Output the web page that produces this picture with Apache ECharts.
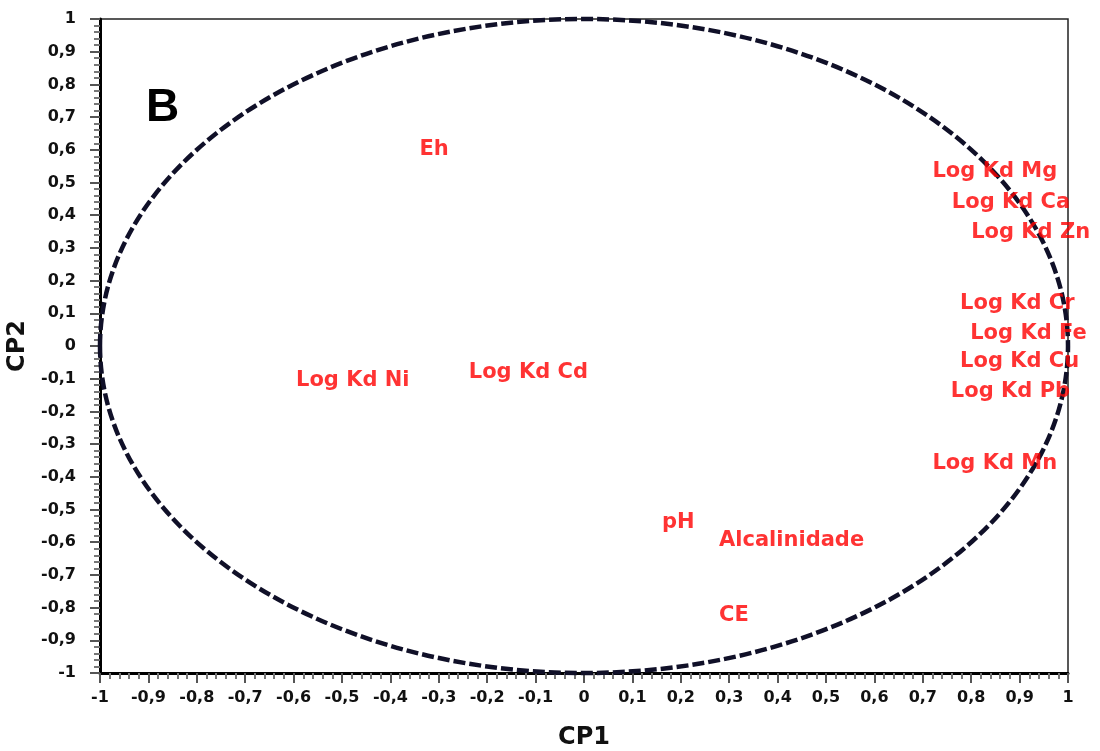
<!DOCTYPE html>
<html>
<head>
<meta charset="utf-8">
<script src="https://cdn.jsdelivr.net/npm/echarts@6/dist/echarts.min.js"></script>
<style>html,body{margin:0;padding:0;background:#fff}#c{width:1100px;height:751px}</style>
</head>
<body>
<div id="c"></div>
<script>
// Variable labels and their biplot coordinates (CP1, CP2)
var labels = ['Eh','Log Kd Mg','Log Kd Ca','Log Kd Zn','Log Kd Cr','Log Kd Fe','Log Kd Cu','Log Kd Pb','Log Kd Mn','Log Kd Ni','Log Kd Cd','pH','Alcalinidade','CE'];
var cp1 = [-0.34, 0.72, 0.76, 0.80, 0.777, 0.798, 0.777, 0.758, 0.72, -0.595, -0.238, 0.161, 0.279, 0.279];
var cp2 = [0.60, 0.532, 0.44, 0.346, 0.131, 0.037, -0.049, -0.138, -0.358, -0.107, -0.08, -0.541, -0.596, -0.823];
// Correlation circle: center and radius
var circleCenter = [0, 0];
var circleRadius = 1;
var axisMin = -1, axisMax = 1, axisStep = 0.1;

var pts = labels.map(function (l, i) { return { name: l, value: [cp1[i], cp2[i]] }; });
function fmt(v) { return String(+v.toFixed(2)).replace('.', ','); }

var chart = echarts.init(document.getElementById('c'), null, { renderer: 'canvas' });
var tickFont = { color: '#111', fontFamily: 'DejaVu Sans', fontWeight: 'bold', fontSize: 16 };
chart.setOption({
  animation: false,
  grid: { left: 100, right: 32, top: 19, bottom: 78, show: true, borderColor: '#222', borderWidth: 1.5,
          containLabel: false, outerBoundsMode: 'none' },
  xAxis: {
    type: 'value', min: axisMin, max: axisMax, interval: axisStep,
    name: 'CP1', nameLocation: 'middle', nameGap: 53,
    nameTextStyle: { color: '#111', fontFamily: 'DejaVu Sans', fontWeight: 'bold', fontSize: 24 },
    axisLine: { onZero: false, lineStyle: { color: '#000', width: 3 } },
    axisTick: { show: true, length: 10, lineStyle: { color: '#555', width: 2 } },
    minorTick: { show: true, splitNumber: 5, length: 6, lineStyle: { color: '#777', width: 2 } },
    splitLine: { show: false },
    axisLabel: Object.assign({ margin: 17, formatter: fmt }, tickFont)
  },
  yAxis: {
    type: 'value', min: axisMin, max: axisMax, interval: axisStep,
    name: 'CP2', nameLocation: 'middle', nameGap: 63, nameRotate: 90,
    nameTextStyle: { color: '#111', fontFamily: 'DejaVu Sans', fontWeight: 'bold', fontSize: 24 },
    axisLine: { onZero: false, lineStyle: { color: '#000', width: 3 } },
    axisTick: { show: true, length: 10, lineStyle: { color: '#555', width: 2 } },
    minorTick: { show: true, splitNumber: 5, length: 6, lineStyle: { color: '#777', width: 2 } },
    splitLine: { show: false },
    axisLabel: Object.assign({ margin: 24, formatter: fmt }, tickFont)
  },
  graphic: [{
    type: 'text', left: 146, top: 85,
    style: { text: 'B', fontFamily: 'Liberation Sans', fontWeight: 'bold', fontSize: 46, fill: '#000' }
  }],
  series: [{
    type: 'custom',
    data: [[circleCenter[0], circleCenter[1], circleRadius]],
    renderItem: function (params, api) {
      var c = api.coord([api.value(0), api.value(1)]);
      var s = api.size([api.value(2), api.value(2)]);
      return {
        type: 'ellipse',
        shape: { cx: c[0], cy: c[1], rx: s[0], ry: s[1] },
        style: { fill: null, stroke: '#101028', lineWidth: 4.5, lineDash: [12, 4] }
      };
    },
    silent: true, z: 1
  }, {
    type: 'scatter',
    data: pts,
    symbolSize: 0,
    z: 3,
    label: {
      show: true, position: 'right', distance: 0,
      formatter: '{b}', color: '#ff0000',
      fontFamily: 'DejaVu Sans', fontWeight: 'bold', fontSize: 21
    }
  }]
});
</script>
</body>
</html>
